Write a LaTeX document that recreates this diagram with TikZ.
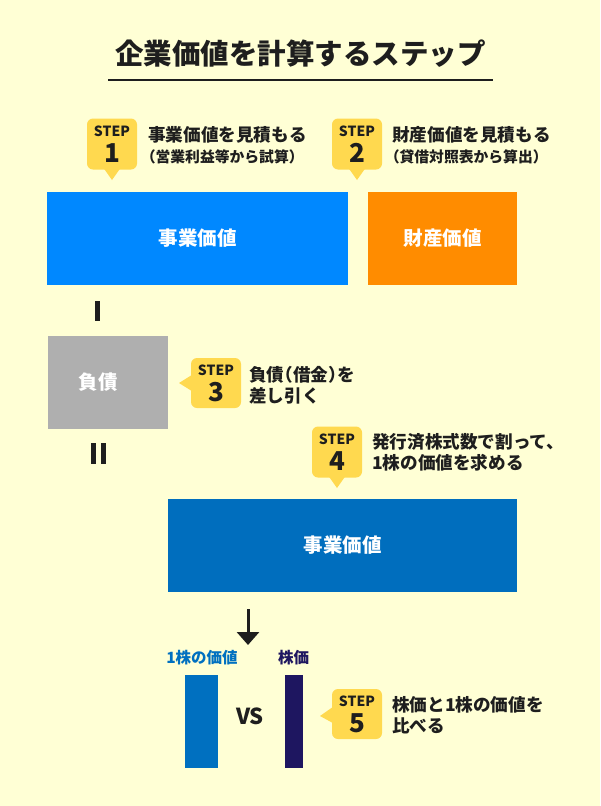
\documentclass[tikz,border=0pt]{standalone}
\usepackage{fontspec}
\setmainfont{Noto Sans CJK JP}
\usetikzlibrary{calc,arrows.meta}
\definecolor{bg}{HTML}{FFFFD5}
\definecolor{badgeyellow}{HTML}{FFD94F}
\definecolor{txt}{HTML}{1E1E1E}
\definecolor{bizblue}{HTML}{0088FF}
\definecolor{assetorange}{HTML}{FF8C00}
\definecolor{debtgray}{HTML}{AFAFAF}
\definecolor{eqblue}{HTML}{006EBE}
\definecolor{barblue}{HTML}{0070C0}
\definecolor{navy}{HTML}{1E1660}
\newcommand\hlp{{\addfontfeatures{RawFeature=+halt}（}}
\newcommand\hrp{{\addfontfeatures{RawFeature=+halt}）}}
\tikzset{
  badge/.style={fill=badgeyellow, rounded corners=6pt, minimum width=50pt, minimum height=51pt, inner sep=0pt},
  steplbl/.style={font=\fontsize{14}{14}\selectfont\bfseries, text=txt, inner sep=0pt},
  stepnum/.style={font=\fontsize{26}{26}\selectfont\bfseries, text=txt, inner sep=0pt},
  maintxt/.style={font=\fontsize{17.6}{17.6}\selectfont\bfseries, anchor=west, inner sep=0pt, text=txt},
  subtxt/.style={font=\fontsize{14.8}{14.8}\selectfont\bfseries, anchor=west, inner sep=0pt, text=txt},
  valbox/.style={minimum height=93pt, inner sep=0pt, text=white, font=\fontsize{19.5}{19.5}\selectfont\bfseries},
  barlbl/.style={font=\fontsize{15.5}{15.5}\selectfont\bfseries, inner sep=0pt},
}
\begin{document}
\begin{tikzpicture}[x=1pt,y=-1pt]
\fill[bg] (0,0) rectangle (600,806);
\useasboundingbox (0,0) rectangle (600,806);

% title
\node[font=\fontsize{28.5}{28.5}\selectfont\bfseries, text=txt, inner sep=0pt] (title) at (300.5,54) {企業価値を計算するステップ};
\coordinate (ulL) at (108,80);
\coordinate (ulR) at (493,80);
\draw[line width=2pt, txt] (ulL) -- (ulR);

% STEP 1
\node[badge] (b1) at (112,144) {};
\fill[badgeyellow] ($(b1.south)+(-8,-1)$) -- (112,180) -- ($(b1.south)+(8,-1)$) -- cycle;
\node[steplbl] (b1a) at (112,131) {STEP};
\node[stepnum] (b1b) at (112,153) {1};
\node[maintxt] (t1a) at (148,135) {事業価値を見積もる};
\node[subtxt] (t1b) at (148,157) {\hlp 営業利益等から試算\hrp};

% STEP 2
\node[badge] (b2) at (357,144) {};
\fill[badgeyellow] ($(b2.south)+(-8,-1)$) -- (357,180) -- ($(b2.south)+(8,-1)$) -- cycle;
\node[steplbl] (b2a) at (357,131) {STEP};
\node[stepnum] (b2b) at (357,153) {2};
\node[maintxt] (t2a) at (392,135) {財産価値を見積もる};
\node[subtxt] (t2b) at (392,157) {\hlp 貸借対照表から算出\hrp};

% boxes row 1
\node[valbox, fill=bizblue, minimum width=301pt] (biz) at (197.5,238.5) {事業価値};
\node[valbox, fill=assetorange, minimum width=149pt] (asset) at (442.5,238.5) {財産価値};

% minus
\fill[txt] (95,301) rectangle (100,321);

% debt box
\node[valbox, fill=debtgray, minimum width=120pt] (debt) at (108,382.5) {};
\node[font=\fontsize{19.5}{19.5}\selectfont\bfseries, text=white, inner sep=0pt] (debtlbl) at (98,382) {負債};

% STEP 3
\node[badge, minimum height=50pt] (b3) at (216,383) {};
\fill[badgeyellow] ($(b3.west)+(1,-8)$) -- (179,383) -- ($(b3.west)+(1,8)$) -- cycle;
\node[steplbl] (b3a) at (216,370) {STEP};
\node[stepnum] (b3b) at (216,392) {3};
\node[maintxt] (t3a) at (249,375) {負債\hlp 借金\hrp を};
\node[maintxt] (t3b) at (249,396) {差し引く};

% equals
\fill[txt] (91,443) rectangle (95.5,464);
\fill[txt] (101,443) rectangle (105.5,464);

% STEP 4
\node[badge] (b4) at (337,452) {};
\fill[badgeyellow] ($(b4.south)+(-8,-1)$) -- (337,488) -- ($(b4.south)+(8,-1)$) -- cycle;
\node[steplbl] (b4a) at (337,439) {STEP};
\node[stepnum] (b4b) at (337,461) {4};
\node[maintxt] (t4a) at (372,442) {発行済株式数で割って、};
\node[maintxt] (t4b) at (372,463) {1株の価値を求める};

% equity box
\node[valbox, fill=eqblue, minimum width=349pt] (eq) at (342.5,545.5) {事業価値};

% arrow
\coordinate (arrS) at (248,609);
\coordinate (arrE) at (248,645);
\draw[line width=3pt, txt, -{Triangle[width=22pt,length=13pt]}] (arrS) -- (arrE);

% bars
\node[barlbl, text=barblue] (l1) at (202,658) {1株の価値};
\node[barlbl, text=navy] (l2) at (293.5,658) {株価};
\node[fill=barblue, minimum width=33pt, minimum height=93pt, inner sep=0pt] (bar1) at (201.5,721.5) {};
\node[fill=navy, minimum width=18pt, minimum height=93pt, inner sep=0pt] (bar2) at (294,721.5) {};
\node[font=\fontsize{22}{22}\selectfont\bfseries, text=txt, inner sep=0pt] (vs) at (250,716) {VS};

% STEP 5
\node[badge, minimum height=50pt] (b5) at (357,714) {};
\fill[badgeyellow] ($(b5.west)+(1,-7)$) -- (320,716) -- ($(b5.west)+(1,9)$) -- cycle;
\node[steplbl] (b5a) at (357,701) {STEP};
\node[stepnum] (b5b) at (357,723) {5};
\node[maintxt] (t5a) at (392,705) {株価と1株の価値を};
\node[maintxt] (t5b) at (392,726) {比べる};
\end{tikzpicture}
\end{document}
